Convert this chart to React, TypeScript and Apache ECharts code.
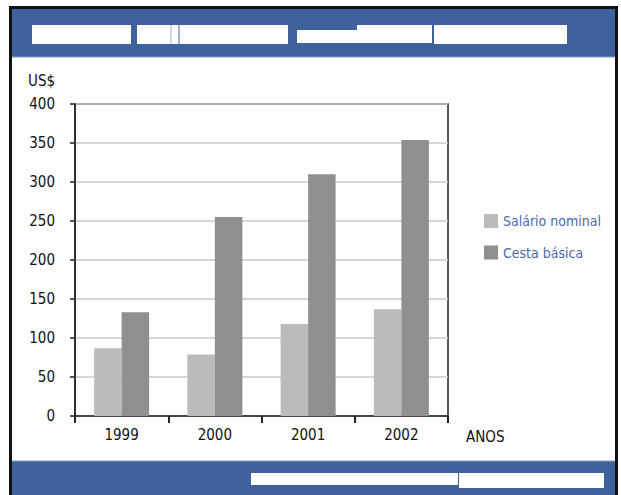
import React, { useEffect, useRef } from "react";
import * as echarts from "echarts";

const categories = ["1999", "2000", "2001", "2002"];
const salarioNominal = [87, 79, 118, 137];
const cestaBasica = [133, 255, 310, 354];
const seriesNames = ["Salário nominal", "Cesta básica"];
const yAxisUnit = "US$";
const xAxisName = "ANOS";

const FONT = "'Liberation Sans Narrow', 'DejaVu Sans Condensed', 'Liberation Sans', sans-serif";
const BLUE = "#3e639c";

export default function App() {
  const ref = useRef<HTMLDivElement>(null);
  useEffect(() => {
    if (!ref.current) return;
    const chart = echarts.init(ref.current, null, { renderer: "svg" });
    chart.setOption({
      animation: false,
      backgroundColor: "#ffffff",
      grid: {
        left: 75,
        top: 104,
        width: 373,
        height: 312,
        show: true,
        borderColor: "#222",
        borderWidth: 1.5,
        containLabel: false,
      },
      legend: {
        orient: "vertical",
        left: 479,
        top: 209,
        itemWidth: 14,
        itemHeight: 14,
        itemGap: 17.5,
        icon: "rect",
        textStyle: { color: "#4a6aa6", fontSize: 14, fontFamily: FONT },
        data: seriesNames,
      },
      xAxis: {
        type: "category",
        data: categories,
        boundaryGap: true,
        axisLine: { lineStyle: { color: "#222", width: 1.5 } },
        axisTick: { show: true, length: 7, lineStyle: { color: "#222", width: 2 } },
        axisLabel: { margin: 11, fontSize: 15, color: "#111", fontFamily: FONT },
        splitLine: { show: false },
      },
      yAxis: {
        type: "value",
        min: 0,
        max: 400,
        interval: 50,
        axisLine: { show: true, lineStyle: { color: "#222", width: 1.5 } },
        axisTick: { show: true, length: 5, lineStyle: { color: "#222", width: 1.5 } },
        axisLabel: { margin: 20, fontSize: 15, color: "#111", fontFamily: FONT },
        splitLine: { show: true, lineStyle: { color: "#c8c8c8", width: 1.5 } },
      },
      series: [
        {
          name: seriesNames[0],
          type: "bar",
          data: salarioNominal,
          barWidth: 27.5,
          barGap: "0%",
          itemStyle: { color: "#bbbbbb" },
        },
        {
          name: seriesNames[1],
          type: "bar",
          data: cestaBasica,
          barWidth: 27.5,
          barGap: "0%",
          itemStyle: { color: "#8f8f8f" },
        },
      ],
      graphic: [
        { type: "rect", shape: { x: 12, y: 9, width: 603, height: 48 }, style: { fill: BLUE }, z: 1 },
        { type: "line", shape: { x1: 12, y1: 57, x2: 615, y2: 57 }, style: { stroke: "#7f9cc8", lineWidth: 1 }, z: 2 },
        { type: "rect", shape: { x: 12, y: 461, width: 603, height: 40 }, style: { fill: BLUE }, z: 1 },
        { type: "line", shape: { x1: 12, y1: 461, x2: 615, y2: 461 }, style: { stroke: "#7f9cc8", lineWidth: 1 }, z: 2 },
        { type: "rect", shape: { x: 32, y: 25, width: 99, height: 19 }, style: { fill: "#fff" }, z: 3 },
        { type: "rect", shape: { x: 137, y: 25, width: 151, height: 19 }, style: { fill: "#fff" }, z: 3 },
        { type: "line", shape: { x1: 171, y1: 25, x2: 171, y2: 44 }, style: { stroke: "#9fb3d3", lineWidth: 1 }, z: 4 },
        { type: "line", shape: { x1: 179, y1: 25, x2: 179, y2: 44 }, style: { stroke: BLUE, lineWidth: 1 }, z: 4 },
        { type: "rect", shape: { x: 297, y: 30, width: 60, height: 13 }, style: { fill: "#fff" }, z: 3 },
        { type: "rect", shape: { x: 357, y: 25, width: 75, height: 18 }, style: { fill: "#fff" }, z: 3 },
        { type: "rect", shape: { x: 434, y: 25, width: 133, height: 19 }, style: { fill: "#fff" }, z: 3 },
        { type: "rect", shape: { x: 251, y: 473, width: 207, height: 12 }, style: { fill: "#fff" }, z: 3 },
        { type: "rect", shape: { x: 459, y: 473, width: 145, height: 15 }, style: { fill: "#fff" }, z: 3 },
        { type: "rect", shape: { x: 10.5, y: 7.5, width: 606, height: 500 }, style: { fill: "none", stroke: "#111", lineWidth: 3 }, z: 5 },
        {
          type: "text",
          x: 28,
          y: 81,
          style: { text: yAxisUnit, fontSize: 15, fill: "#111", fontFamily: FONT, verticalAlign: "middle", align: "left" },
          z: 5,
        },
        {
          type: "text",
          x: 466,
          y: 437,
          style: { text: xAxisName, fontSize: 15, fill: "#111", fontFamily: FONT, verticalAlign: "middle", align: "left" },
          z: 5,
        },
      ],
    });
    return () => chart.dispose();
  }, []);
  return (
    <div
      ref={ref}
      style={{ position: "absolute", left: 0, top: 0, width: 621, height: 495, background: "#fff" }}
    />
  );
}
